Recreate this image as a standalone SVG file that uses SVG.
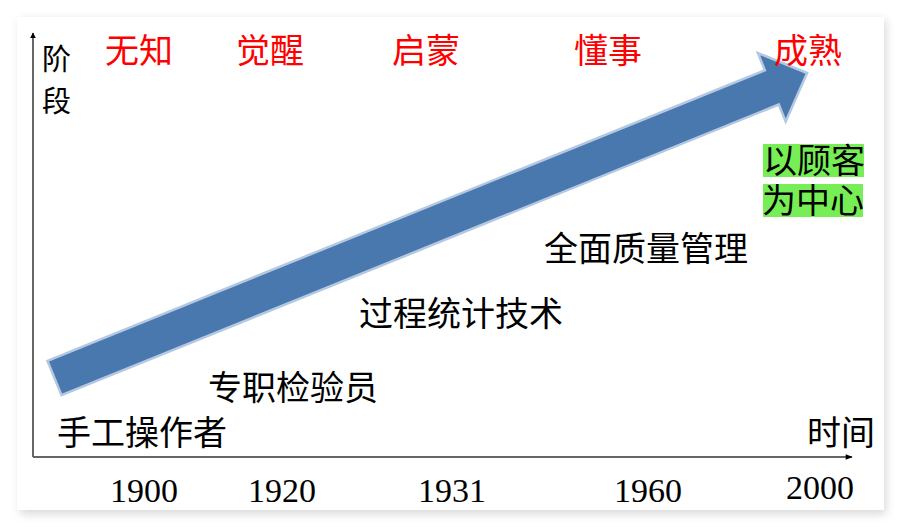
<svg xmlns="http://www.w3.org/2000/svg" width="901" height="527" viewBox="0 0 901 527">
<defs>
<filter id="sh" x="-5%" y="-5%" width="110%" height="115%"><feGaussianBlur stdDeviation="5"/></filter>
<marker id="ah" viewBox="0 0 10 10" refX="9" refY="5" markerWidth="6" markerHeight="6" markerUnits="userSpaceOnUse" orient="auto"><path d="M0,0 L10,5 L0,10 z" fill="#000"/></marker>
<marker id="ah2" viewBox="0 0 10 10" refX="9" refY="5" markerWidth="14" markerHeight="7" markerUnits="userSpaceOnUse" orient="auto"><path d="M0,1 L10,5 L0,9 z" fill="#000"/></marker>
<style>
.cjk{font-family:"Noto Sans CJK SC","Noto Sans",sans-serif;}
.stage{font-size:34px;fill:#ff0000;}
.lbl{font-size:34px;fill:#000;}
.yr{font-family:"Liberation Serif","Times New Roman",serif;font-size:34px;fill:#000;}
.hl{fill:#77ee55;}
</style>
</defs>
<rect width="901" height="527" fill="#ffffff"/>
<rect x="20" y="20" width="866" height="494" fill="#d8d8d8" filter="url(#sh)"/>
<rect x="17" y="17" width="867" height="493" fill="#ffffff"/>

<g id="connectors">
<line x1="33" y1="457" x2="33" y2="33" stroke="#000" stroke-width="1.2" marker-end="url(#ah)"/>
<line x1="33" y1="457" x2="852" y2="457" stroke="#666" stroke-width="2" marker-end="url(#ah2)"/>
</g>

<g id="big-arrow">
<polygon points="47.5,360.9 764.9,70.2 757.9,53 807.1,73 785.7,121.6 778.8,104.5 61.5,395.2" fill="#4878ae" stroke="#b4c8e2" stroke-width="2.5" stroke-linejoin="miter"/>
</g>

<g id="axis-y-label" class="cjk lbl"><text x="42" y="70" font-size="29">阶</text><text x="42" y="112" font-size="29">段</text></g>
<g id="axis-x-label" class="cjk lbl"><text x="807" y="445" font-size="34">时间</text></g>

<g id="stages" class="cjk stage">
<text x="105" y="63">无知</text>
<text x="236" y="63">觉醒</text>
<text x="392" y="63">启蒙</text>
<text x="574" y="63">懂事</text>
<text x="774" y="63">成熟</text>
</g>

<g id="customer">
<rect class="hl" x="763" y="144" width="101" height="33"/>
<rect class="hl" x="763" y="184" width="100" height="33"/>
<text class="cjk lbl" x="763" y="173" font-size="33">以顾客</text>
<text class="cjk lbl" x="762" y="213" font-size="33">为中心</text>
</g>
<g id="tqm"><text class="cjk lbl" x="544" y="261" font-size="34.5">全面质量管理</text></g>
<g id="spc"><text class="cjk lbl" x="359" y="326" font-size="34.5">过程统计技术</text></g>
<g id="inspector"><text class="cjk lbl" x="208" y="400" font-size="34">专职检验员</text></g>
<g id="manual"><text class="cjk lbl" x="57" y="445" font-size="34.5">手工操作者</text></g>

<g id="years" class="yr">
<text x="110" y="502">1900</text>
<text x="248" y="502">1920</text>
<text x="418" y="502">1931</text>
<text x="614" y="502">1960</text>
<text x="786" y="499">2000</text>
</g>
</svg>
